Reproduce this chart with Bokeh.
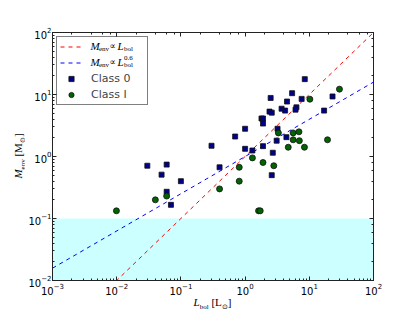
from bokeh.plotting import figure
from bokeh.models import LogAxis, Label, BoxAnnotation, Legend, LegendItem, Div
from bokeh.layouts import row, column
from bokeh.embed import file_html
from bokeh.resources import INLINE

# ---- data ----
class0_L = [8.5, 5.4, 7.6, 2.5, 4.5, 3.7, 4.2, 6.3, 6.1, 2.4, 2.6, 23.0, 17.0,
            1.8, 1.9, 1.9, 1.0, 3.2, 3.1, 4.4, 1.0, 1.9, 1.3, 2.7, 0.70, 0.30,
            0.030, 0.060, 0.050, 0.10, 0.40, 0.060, 0.070, 2.6]
class0_M = [17.7, 10.5, 8.5, 8.8, 7.7, 5.9, 5.5, 6.2, 5.7, 5.3, 5.1, 9.3, 5.5,
            4.1, 4.1, 3.4, 2.8, 2.8, 1.8, 2.05, 1.33, 1.47, 1.25, 1.15, 2.1, 1.49,
            0.71, 0.74, 0.51, 0.40, 0.67, 0.27, 0.166, 0.50]
classI_L = [29.5, 10.2, 3.3, 5.6, 6.9, 5.6, 7.0, 19.2, 4.7, 8.4, 1.3, 1.9, 2.8,
            0.81, 0.81, 1.62, 1.72, 0.40, 0.060, 0.040, 0.0099]
classI_M = [12.2, 8.4, 2.4, 2.4, 2.5, 1.86, 1.8, 1.86, 1.41, 1.41, 0.95, 0.80, 0.71,
            0.67, 0.40, 0.133, 0.133, 0.30, 0.23, 0.20, 0.133]

line_L = [1e-3, 1e2]
linear_M = [1e-3, 1e2]          # M_env ∝ L_bol
power_M = [0.0158, 15.85]       # M_env ∝ L_bol^0.6
shade_top = 0.1

x_range = (1e-3, 1e2)
y_range = (1e-2, 1e2)

YLAB_W = 24     # width of the y-label strip
FIG_H = 298
XLAB_H = 12

p = figure(width=410 - YLAB_W, height=FIG_H, x_axis_type="log", y_axis_type="log",
           x_range=x_range, y_range=y_range, output_backend="svg",
           toolbar_location=None, min_border_left=52 - YLAB_W, min_border_right=37,
           min_border_top=32, min_border_bottom=FIG_H - 280)
p.grid.visible = False
p.outline_line_color = None
p.background_fill_color = "white"
p.border_fill_color = "white"

p.add_layout(LogAxis(), "above")
p.add_layout(LogAxis(), "right")
for ax in p.axis:
    ax.major_tick_in = 4
    ax.major_tick_out = 0
    ax.minor_tick_in = 2
    ax.minor_tick_out = 0
    ax.axis_line_color = "#222222"
    ax.major_tick_line_color = "#222222"
    ax.minor_tick_line_color = "#222222"
    ax.major_label_text_font = "DejaVu Sans"
    ax.major_label_text_font_size = "10px"
    ax.major_label_text_color = "black"
for ax in p.above + p.right:
    ax.major_label_text_font_size = "2px"
    ax.major_label_text_alpha = 0.0
    ax.major_label_standoff = 0
p.below[0].major_label_standoff = 2
p.left[0].major_label_standoff = 1

shade = BoxAnnotation(top=shade_top, fill_color="#ccffff", fill_alpha=1.0,
                      line_alpha=0, level="underlay")
p.add_layout(shade)

r_lin = p.line(line_L, linear_M, line_color="#ff0000", line_dash="4 4", line_width=1)
r_pow = p.line(line_L, power_M, line_color="#0000ff", line_dash="4 4", line_width=1)
r_c0 = p.scatter(class0_L, class0_M, marker="square", size=5, fill_color="#00008b",
                 line_color="#111111", line_width=0.8)
r_c1 = p.scatter(classI_L, classI_M, marker="circle", size=6, fill_color="#006400",
                 line_color="#111111", line_width=0.8)

legend = Legend(items=[LegendItem(label=" ", renderers=[r_lin]),
                       LegendItem(label=" ", renderers=[r_pow]),
                       LegendItem(label="Class 0", renderers=[r_c0]),
                       LegendItem(label="Class I", renderers=[r_c1])],
                location="top_left", margin=4, padding=3, spacing=3,
                glyph_height=13, label_height=13, glyph_width=22,
                label_standoff=9, label_width=53,
                label_text_font="DejaVu Sans", label_text_font_size="11px",
                border_line_color="black", border_line_width=1,
                background_fill_alpha=0.0)
p.add_layout(legend)

FR_L, FR_B = 52, 280   # frame left / bottom in page pixels


def txt(ix, iy, s, size, style="normal", font="Liberation Serif"):
    p.add_layout(Label(x=ix - FR_L, y=FR_B - iy, x_units="screen", y_units="screen",
                       text=s, text_font=font, text_font_size=f"{size}px",
                       text_font_style=style, text_baseline="middle",
                       text_align="left", text_color="black"))


# legend math labels
for row_y, sup in [(45.5, None), (61.5, "0.6")]:
    txt(90, row_y, "M", 11, "italic")
    txt(98.5, row_y + 3, "env", 7)
    txt(109, row_y, "∝", 9, font="DejaVu Sans")
    txt(117, row_y, "L", 11, "italic")
    if sup:
        txt(123.5, row_y - 4, sup, 7)
    txt(123.5, row_y + 3, "bol", 7)

SUB = "font-size:7px; vertical-align:-3px;"
ylab_html = (
    f'<div style="position:relative; width:{YLAB_W}px; height:{FIG_H + XLAB_H}px;">'
    '<div style="position:absolute; left:19.5px; top:156px; '
    'transform:translate(-50%,-50%) rotate(-90deg); white-space:nowrap; '
    "font-family:'Liberation Serif'; font-size:11px; line-height:12px; color:black;\">"
    f'<i>M</i><span style="{SUB}">env</span> [M<span style="{SUB}">⊙</span>]'
    '</div></div>')
xlab_html = (
    f'<div style="position:relative; width:{410 - YLAB_W}px; height:{XLAB_H}px;">'
    f'<div style="position:absolute; left:{212.5 - YLAB_W}px; top:6px; '
    'transform:translate(-50%,-50%); white-space:nowrap; '
    "font-family:'Liberation Serif'; font-size:11px; line-height:12px; color:black;\">"
    f'<i>L</i><span style="{SUB}">bol</span> [L<span style="{SUB}">⊙</span>]'
    '</div></div>')

ydiv = Div(text=ylab_html, width=YLAB_W, height=FIG_H + XLAB_H, margin=0)
xdiv = Div(text=xlab_html, width=410 - YLAB_W, height=XLAB_H, margin=0)

layout = row(ydiv, column(p, xdiv, spacing=0), spacing=0)

open("out.html", "w").write(file_html(layout, INLINE))
